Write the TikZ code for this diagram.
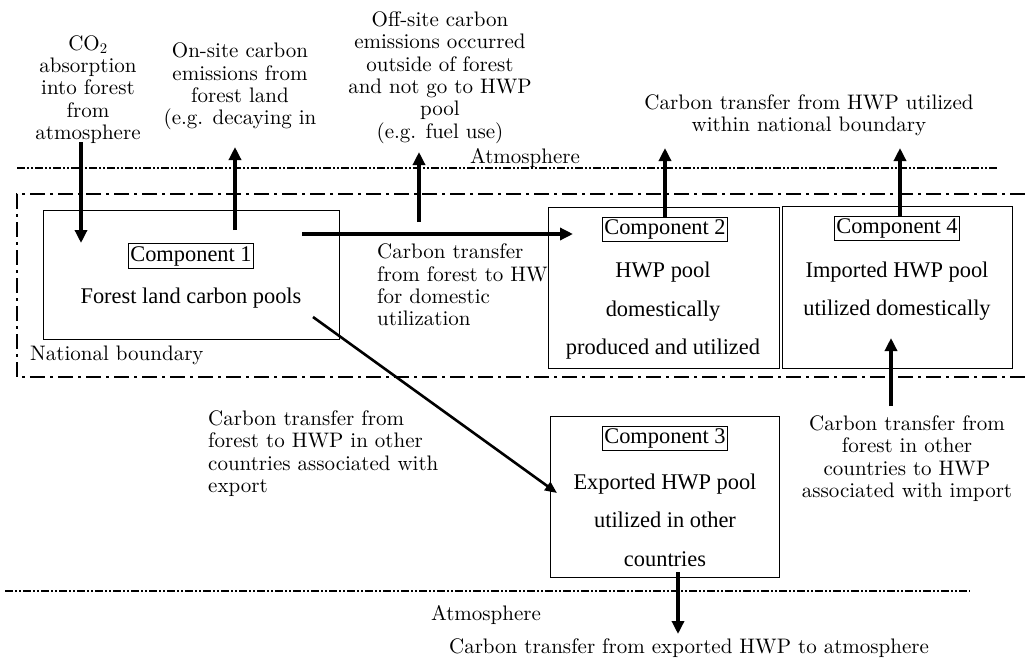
\documentclass[tikz,border=0pt]{standalone}
\usepackage{fontspec}
\newfontfamily\poolfont{Liberation Serif}
\newfontfamily\lblfont{lmroman10-regular.otf}
\usetikzlibrary{arrows.meta}

\begin{document}
\begin{tikzpicture}[x=1pt,y=-1pt,
  lbl/.style={font=\lblfont\fontsize{21}{22.3}\selectfont, align=center, inner sep=0pt},
  lbll/.style={lbl, align=left},
  pool/.style={draw, line width=1pt, fill=white, inner sep=0pt},
  pooltxt/.style={font=\poolfont\fontsize{22.4}{38.5}\selectfont, align=center, inner sep=0pt},
  tag/.style={draw, line width=1.2pt, fill=white, font=\poolfont\fontsize{22.4}{24}\selectfont,
    inner xsep=2pt, inner ysep=2pt, text height=15.5pt, text depth=5pt},
  flow/.style={line width=4pt, -{Triangle[length=13pt,width=12pt]}},
  thinflow/.style={line width=2.6pt, -{Triangle[length=12pt,width=10pt]}},
  atmos/.style={line width=1.8pt, dash pattern=on 8pt off 2pt on 2pt off 2pt on 2pt off 2pt},
  border/.style={line width=2pt, dash pattern=on 15pt off 5pt on 3pt off 5pt},
]
\useasboundingbox[fill=white] (0,0) rectangle (1025,662);

% atmosphere lines and national boundary
\draw[atmos] (17,168) -- (997,168);
\draw[atmos] (5,591) -- (970,591);
\draw[border] (1025,194) -| (17,377) -- (1025,377);

% free text labels
\node[lbl] (co2txt) at (88,89.5) {CO\textsubscript{2}\\absorption\\into forest\\from\\atmosphere};
\node[lbl] (onsite) at (240,86.5) {On-site carbon\\emissions from\\forest land\\(e.g. decaying in};
\node[lbl] (offsite) at (440,77.5) {Off-site carbon\\emissions occurred\\outside of forest\\and not go to HWP\\pool\\(e.g. fuel use)};
\node[lbl] (hwpout) at (809,115.5) {Carbon transfer from HWP utilized\\within national boundary};
\node[lbl] (atmtop) at (525,158) {Atmosphere};
\node[lbll, anchor=west] (domtxt) at (377,285) {Carbon transfer\\from forest to HWP\\for domestic\\utilization};
\node[lbl, anchor=west] (natb) at (30,355) {National boundary};
\node[lbll, anchor=west] (exptxt) at (208,453.5) {Carbon transfer from\\forest to HWP in other\\countries associated with\\export};
\node[lbl] (imptxt) at (907,458.5) {Carbon transfer from\\forest in other\\countries to HWP\\associated with import};
\node[lbl] (atmbot) at (486,615) {Atmosphere};
\node[lbl] (expatm) at (689,648) {Carbon transfer from exported HWP to atmosphere};

% carbon pools
\node[pool, minimum width=296pt, minimum height=129pt] (box1) at (191,274.5) {};
\node[pool, minimum width=231pt, minimum height=161pt] (box2) at (663.5,287.5) {};
\node[pool, minimum width=230pt, minimum height=162pt] (box4) at (897,287) {};
\node[pool, minimum width=229pt, minimum height=161pt] (box3) at (664.5,496.5) {};

\node[tag] (c1) at (191,256) {Component 1};
\node[tag] (c2) at (665,229.5) {Component 2};
\node[tag] (c4) at (897,228.5) {Component 4};
\node[tag] (c3) at (665,438.5) {Component 3};

\node[pooltxt] (t1) at (191,298) {Forest land carbon pools};
\node[pooltxt] (t2) at (663,311) {HWP pool\\domestically\\produced and utilized};
\node[pooltxt] (t4) at (897,291) {Imported HWP pool\\utilized domestically};
\node[pooltxt] (t3) at (665,520) {Exported HWP pool\\utilized in other\\countries};

% arrow end points
\coordinate (co2in) at (81,243);
\coordinate (co2src) at (81,142);
\coordinate (onsrc) at (235,230);
\coordinate (onout) at (235,147);
\coordinate (offsrc) at (419,222);
\coordinate (offout) at (419,152);
\coordinate (domsrc) at (302,234);
\coordinate (domin) at (573,234);
\coordinate (c2out) at (665,148);
\coordinate (c4src) at (900,217);
\coordinate (c4out) at (900,148);
\coordinate (expsrc) at (313,317);
\coordinate (expin) at (557,493);
\coordinate (impsrc) at (891,406);
\coordinate (impin) at (891,338);
\coordinate (c3src) at (678,572);
\coordinate (c3out) at (678,634);

% carbon flows
\draw[flow] (co2src) -- (co2in);
\draw[flow] (onsrc) -- (onout);
\draw[flow] (offsrc) -- (offout);
\draw[flow, line width=4.5pt] (domsrc) -- (domin);
\draw[flow] (c2.north) -- (c2out);
\draw[flow] (c4src) -- (c4out);
\draw[thinflow] (expsrc) -- (expin);
\draw[flow] (impsrc) -- (impin);
\draw[flow] (c3src) -- (c3out);
\end{tikzpicture}
\end{document}
